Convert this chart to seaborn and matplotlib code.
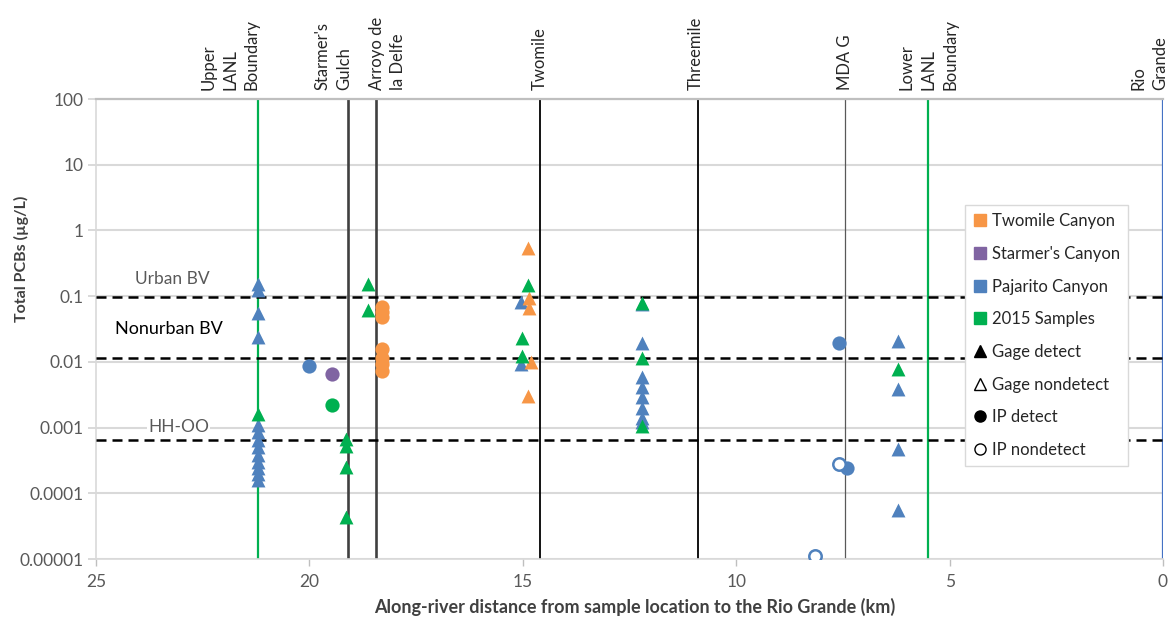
import pandas as pd
import matplotlib
matplotlib.use("Agg")
import matplotlib.pyplot as plt
from matplotlib.lines import Line2D
import seaborn as sns

# Along-river distance (km) and total PCBs (ug/L)
pajarito_gage_km = [21.2, 21.2, 21.2, 21.2, 21.2, 21.2, 21.2, 21.2, 21.2, 21.2, 21.2, 21.2, 21.2,
                    15.05, 15.05,
                    12.2, 12.2, 12.2, 12.2, 12.2, 12.2, 12.2, 12.2,
                    6.2, 6.2, 6.2, 6.2]
pajarito_gage_pcb = [0.152, 0.123, 0.055, 0.024, 0.0011, 0.00085, 0.00065, 0.0005, 0.00038, 0.0003, 0.00024, 0.0002, 0.00016,
                     0.082, 0.0093,
                     0.075, 0.0197, 0.0058, 0.0041, 0.0029, 0.002, 0.0014, 0.0012,
                     0.021, 0.0039, 0.00048, 0.000055]

twomile_gage_km = [14.88, 14.85, 14.85, 14.8, 14.88]
twomile_gage_pcb = [0.54, 0.095, 0.066, 0.0098, 0.003]

samples2015_gage_km = [21.2, 19.15, 19.15, 19.15, 19.15, 18.62, 18.62, 14.88, 15.02, 15.02, 12.2, 12.2, 12.2, 6.2]
samples2015_gage_pcb = [0.0016, 0.00068, 0.00053, 0.00025, 0.000043, 0.155, 0.061, 0.147, 0.023, 0.0123, 0.078, 0.0116, 0.00105, 0.0078]

twomile_ip_km = [18.31, 18.31, 18.31, 18.31, 18.31, 18.31, 18.31]
twomile_ip_pcb = [0.068, 0.057, 0.048, 0.0157, 0.0115, 0.0093, 0.0073]

starmers_ip_km = [19.47]
starmers_ip_pcb = [0.0066]

pajarito_ip_km = [20.0, 7.58, 7.4]
pajarito_ip_pcb = [0.0087, 0.0197, 0.00024]

samples2015_ip_km = [19.47]
samples2015_ip_pcb = [0.0022]

pajarito_ip_nd_km = [7.6, 8.15]
pajarito_ip_nd_pcb = [0.00028, 0.000011]

# reference lines
site_names = ["Upper\nLANL\nBoundary", "Starmer's\nGulch", "Arroyo de\nla Delfe", "Twomile",
              "Threemile", "MDA G", "Lower\nLANL\nBoundary", "Rio\nGrande"]
site_km = [21.2, 19.1, 18.45, 14.6, 10.9, 7.45, 5.5, 0.0]
bv_names = ["Urban BV", "Nonurban BV", "HH-OO"]
bv_pcb = [0.097, 0.0115, 0.00064]

y_ticks = [1e-5, 1e-4, 1e-3, 1e-2, 1e-1, 1, 10, 100]
y_tick_labels = ["0.00001", "0.0001", "0.001", "0.01", "0.1", "1", "10", "100"]
x_ticks = [25, 20, 15, 10, 5, 0]

ORANGE = "#f79646"
PURPLE = "#8064a2"
BLUE = "#4f81bd"
GREEN = "#00b050"
TXT = "#595959"

series = [
    ("Pajarito Canyon", "gage", pajarito_gage_km, pajarito_gage_pcb),
    ("Twomile Canyon", "gage", twomile_gage_km, twomile_gage_pcb),
    ("2015 Samples", "gage", samples2015_gage_km, samples2015_gage_pcb),
    ("Twomile Canyon", "ip", twomile_ip_km, twomile_ip_pcb),
    ("Starmer's Canyon", "ip", starmers_ip_km, starmers_ip_pcb),
    ("Pajarito Canyon", "ip", pajarito_ip_km, pajarito_ip_pcb),
    ("2015 Samples", "ip", samples2015_ip_km, samples2015_ip_pcb),
    ("Pajarito Canyon", "ip_nd", pajarito_ip_nd_km, pajarito_ip_nd_pcb),
]
df = pd.concat([pd.DataFrame({"km": k, "pcb": v, "canyon": c, "kind": t}) for c, t, k, v in series],
               ignore_index=True)
palette = {"Twomile Canyon": ORANGE, "Starmer's Canyon": PURPLE, "Pajarito Canyon": BLUE, "2015 Samples": GREEN}

sns.set_style("white")
plt.rcParams["font.family"] = ["Lato", "DejaVu Sans"]

fig = plt.figure(figsize=(11.7, 6.27), dpi=100)
ax = fig.add_axes([96 / 1170, 1 - 559 / 627, (1163 - 96) / 1170, 460 / 627])

# site lines
site_styles = [(GREEN, 1.6), ("#404040", 1.9), ("#404040", 1.9), ("black", 1.3), ("black", 1.3),
               ("#595959", 0.9), (GREEN, 1.6), ("#4472c4", 1.6)]
site_label_shift = [0.66, 0.34, -0.28, 0.0, 0.05, 0.0, 0.0, 0.31]
for name, km, (col, lw), dx in zip(site_names, site_km, site_styles, site_label_shift):
    ax.axvline(km, color=col, lw=lw, zorder=2)
    ax.text(km + dx, 1.019, name, transform=ax.get_xaxis_transform(), rotation=90,
            ha="center", va="bottom", multialignment="left", linespacing=1.45,
            fontsize=12, color="#262626")

# background-value lines
for v in bv_pcb:
    ax.axhline(v, color="black", lw=1.8, ls=(0, (4, 2.4)), zorder=3)
ax.text(24.09, 0.18, bv_names[0], color=TXT, fontsize=12.5, ha="left", va="center")
ax.text(24.55, 0.032, bv_names[1], color="black", fontsize=13, ha="left", va="center")
ax.text(23.78, 0.00103, bv_names[2], color=TXT, fontsize=12.5, ha="left", va="center",
        bbox=dict(facecolor="white", edgecolor="none", pad=1), zorder=2.5)

# points
for canyon, kind, km, pcb in series:
    sub = df[(df["canyon"] == canyon) & (df["kind"] == kind)]
    if kind == "gage":
        sns.scatterplot(data=sub, x="km", y="pcb", color=palette[canyon], marker="^", s=100,
                        linewidth=0, ax=ax, legend=False, zorder=4)
    elif kind == "ip":
        sns.scatterplot(data=sub, x="km", y="pcb", color=palette[canyon], marker="o", s=105,
                        linewidth=0, ax=ax, legend=False, zorder=4)
    else:
        sns.scatterplot(data=sub, x="km", y="pcb", color="white", edgecolor=palette[canyon],
                        marker="o", s=80, linewidth=1.8, ax=ax, legend=False, zorder=4)

ax.set_yscale("log")
ax.set_ylim(1e-5, 100)
ax.set_xlim(25, 0)
ax.set_yticks(y_ticks)
ax.set_yticklabels(y_tick_labels)
ax.yaxis.set_minor_locator(matplotlib.ticker.NullLocator())
ax.set_xticks(x_ticks)
ax.set_xticklabels([str(t) for t in x_ticks])
ax.tick_params(axis="both", labelsize=12.5, labelcolor=TXT)
ax.tick_params(axis="y", length=6, width=1.4, color="#d9d9d9", left=True, pad=3)
ax.tick_params(axis="x", length=5, width=1, color="#bfbfbf", bottom=True, pad=6)

ax.yaxis.grid(True, color="#d9d9d9", lw=1.5, zorder=0)
ax.xaxis.grid(False)
ax.set_axisbelow(True)
for side in ["left", "bottom"]:
    ax.spines[side].set_color("#d9d9d9")
    ax.spines[side].set_linewidth(1.2)
ax.spines["top"].set_color("#bfbfbf")
ax.spines["top"].set_linewidth(1.6)
ax.spines["right"].set_visible(False)

ax.set_xlabel("Along-river distance from sample location to the Rio Grande (km)",
              fontsize=13, fontweight="bold", color="#404040")
ax.xaxis.set_label_coords(0.505, -0.085)
ax.set_ylabel("Total PCBs (µg/L)", fontsize=11.5, fontweight="bold", color="#404040")
ax.yaxis.set_label_coords(-0.063, 0.652)

handles = [
    Line2D([], [], ls="", marker="s", mfc=ORANGE, mec=ORANGE, ms=8, label="Twomile Canyon"),
    Line2D([], [], ls="", marker="s", mfc=PURPLE, mec=PURPLE, ms=8, label="Starmer's Canyon"),
    Line2D([], [], ls="", marker="s", mfc=BLUE, mec=BLUE, ms=8, label="Pajarito Canyon"),
    Line2D([], [], ls="", marker="s", mfc=GREEN, mec=GREEN, ms=8, label="2015 Samples"),
    Line2D([], [], ls="", marker="^", mfc="black", mec="black", ms=8, label="Gage detect"),
    Line2D([], [], ls="", marker="^", mfc="white", mec="black", mew=1, ms=8, label="Gage nondetect"),
    Line2D([], [], ls="", marker="o", mfc="black", mec="black", ms=8, label="IP detect"),
    Line2D([], [], ls="", marker="o", mfc="white", mec="black", mew=1, ms=8, label="IP nondetect"),
]
leg = ax.legend(handles=handles, loc="upper left", bbox_to_anchor=(0.8144, 0.7696), fontsize=12,
                frameon=True, fancybox=False, edgecolor="#d9d9d9", framealpha=1, borderaxespad=0,
                handlelength=0.8, handletextpad=0.3, labelspacing=1.0, borderpad=0.5)
for t in leg.get_texts():
    t.set_color("#262626")
leg.set_zorder(6)

fig.savefig("out.png", dpi=100)
